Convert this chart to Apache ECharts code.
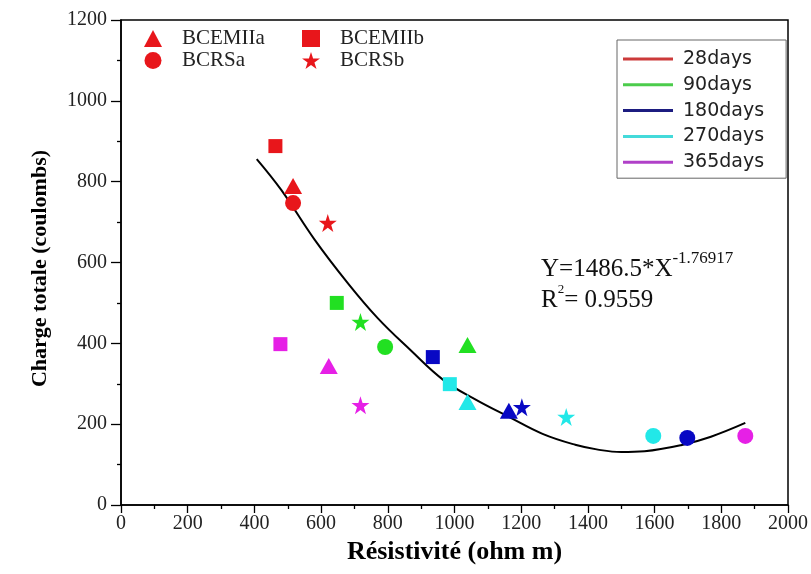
<!DOCTYPE html>
<html>
<head>
<meta charset="utf-8">
<script src="https://cdn.jsdelivr.net/npm/echarts@6/dist/echarts.min.js"></script>
<style>
html,body{margin:0;padding:0;background:#fff;}
#chart{width:811px;height:574px;}
</style>
</head>
<body>
<div id="chart"></div>
<script>
// ---- data ----
const ages = ['28days', '90days', '180days', '270days', '365days'];
const ageColors = ['#e8161b', '#22e022', '#0808c4', '#22e8e8', '#e620e6'];
const legendLineColors = ['#cc3a3a', '#4ccc4c', '#1c1c80', '#44dada', '#b040c8'];
const mixes = ['BCEMIIa', 'BCEMIIb', 'BCRSa', 'BCRSb'];
// [resistivity, charge] for each age (28, 90, 180, 270, 365 days)
const BCEMIIa = [[516, 789], [1039, 396], [1163, 233], [1039, 255], [623, 344]];
const BCEMIIb = [[463, 888], [647, 500], [935, 366], [986, 299], [478, 398]];
const BCRSa   = [[516, 747], [792, 391], [1698, 166], [1596, 171], [1872, 171]];
const BCRSb   = [[620, 698], [718, 453], [1202, 242], [1335, 218], [718, 247]];
// fitted curve
const fitX = [407, 481, 581, 680, 769, 867, 967, 1065, 1163, 1264, 1362, 1430, 1500, 1570, 1679, 1769, 1872];
const fitY = [856, 779, 656, 549, 463, 384, 309, 260, 218, 176, 149, 137, 131, 133, 148, 169, 203];
const xTicks = [0, 2000, 200];
const yTicks = [0, 1200, 200];

const STAR = 'path://M50,0 L61.2,34.5 L97.6,34.5 L68.2,55.9 L79.4,90.5 L50,69.1 L20.6,90.5 L31.8,55.9 L2.4,34.5 L38.8,34.5 Z';
const mixData = [BCEMIIa, BCEMIIb, BCRSa, BCRSb];
const mixSymbols = ['triangle', 'rect', 'circle', STAR];
const mixSizes = [[18, 16], [14, 14], [16, 16], [18, 18]];

const serif = '"Liberation Serif", "Times New Roman", serif';
const sans = '"DejaVu Sans", sans-serif';

const chart = echarts.init(document.getElementById('chart'), null, {renderer: 'canvas'});

const series = [];
mixes.forEach((m, i) => {
  series.push({
    name: m,
    type: 'scatter',
    symbol: mixSymbols[i],
    symbolSize: mixSizes[i],
    data: mixData[i],
    itemStyle: {color: p => ageColors[p.dataIndex], opacity: 1},
    z: 5
  });
});
ages.forEach((a, i) => {
  series.push({name: a, type: 'line', data: [], color: legendLineColors[i], showSymbol: false});
});
series.push({
  name: 'fit',
  type: 'line',
  smooth: 0.4,
  showSymbol: false,
  data: fitX.map((x, i) => [x, fitY[i]]),
  lineStyle: {color: '#000', width: 2},
  itemStyle: {color: '#000'},
  z: 3
});

const minorTick = {show: true, splitNumber: 2, length: 4, lineStyle: {color: '#000', width: 1.3}};
const shapeLegendText = {fontFamily: serif, fontSize: 21, color: '#222', lineHeight: 18, padding: [0, 0, 0, 15]};

chart.setOption({
  backgroundColor: '#fff',
  animation: false,
  grid: {left: 121, right: 16, top: 20, bottom: 69, show: true, borderColor: '#000', borderWidth: 1.5},
  xAxis: {
    type: 'value', min: xTicks[0], max: xTicks[1], interval: xTicks[2],
    name: 'Résistivité (ohm m)', nameLocation: 'middle', nameGap: 34,
    nameTextStyle: {fontFamily: serif, fontWeight: 'bold', fontSize: 26, color: '#000'},
    axisLine: {show: true, onZero: false, lineStyle: {color: '#000', width: 1.5}},
    axisTick: {show: true, inside: false, length: 8, lineStyle: {color: '#000', width: 1.3}},
    minorTick: minorTick,
    axisLabel: {fontFamily: serif, fontSize: 20, color: '#222', margin: 9, formatter: v => String(v)},
    splitLine: {show: false}
  },
  yAxis: {
    type: 'value', min: yTicks[0], max: yTicks[1], interval: yTicks[2],
    name: 'Charge totale (coulombs)', nameLocation: 'middle', nameGap: 70,
    nameTextStyle: {fontFamily: serif, fontWeight: 'bold', fontSize: 22, color: '#000', padding: [0, 12, 0, 0]},
    axisLine: {show: true, onZero: false, lineStyle: {color: '#000', width: 1.5}},
    axisTick: {show: true, inside: false, length: 10, lineStyle: {color: '#000', width: 1.3}},
    minorTick: minorTick,
    axisLabel: {fontFamily: serif, fontSize: 20, color: '#222', margin: 14, formatter: v => String(v)},
    splitLine: {show: false}
  },
  legend: [
    {
      orient: 'vertical', left: 139, top: 23, itemWidth: 18, itemHeight: 17, itemGap: 1,
      data: [
        {name: 'BCEMIIa', icon: 'triangle', itemStyle: {color: ageColors[0]}},
        {name: 'BCRSa', icon: 'circle', itemStyle: {color: ageColors[0]}}
      ],
      textStyle: shapeLegendText
    },
    {
      orient: 'vertical', left: 297, top: 23, itemWidth: 18, itemHeight: 17, itemGap: 1,
      data: [
        {name: 'BCEMIIb', icon: 'rect', itemStyle: {color: ageColors[0]}},
        {name: 'BCRSb', icon: STAR, itemStyle: {color: ageColors[0]}}
      ],
      textStyle: shapeLegendText
    },
    {
      orient: 'vertical', left: 617, top: 40, itemWidth: 50, itemHeight: 3, itemGap: 5.8,
      padding: [9, 22, 6, 6],
      borderColor: '#666', borderWidth: 1,
      icon: 'path://M0,0 L100,0 L100,6 L0,6 Z',
      data: ages,
      textStyle: {fontFamily: sans, fontSize: 19, color: '#222', lineHeight: 20, padding: [0, 0, 0, 5]}
    }
  ],
  graphic: [
    {
      type: 'text', left: 541, top: 250,
      style: {
        text: '{a|Y=1486.5*X}{b|-1.76917}',
        rich: {
          a: {fontFamily: serif, fontSize: 25, fill: '#111', lineHeight: 32, verticalAlign: 'bottom'},
          b: {fontFamily: serif, fontSize: 17, fill: '#111', lineHeight: 32, verticalAlign: 'top'}
        }
      }
    },
    {
      type: 'text', left: 541, top: 283,
      style: {
        text: '{a|R}{b|2}{a|= 0.9559}',
        rich: {
          a: {fontFamily: serif, fontSize: 25, fill: '#111', lineHeight: 30, verticalAlign: 'bottom'},
          b: {fontFamily: serif, fontSize: 13, fill: '#111', lineHeight: 30, verticalAlign: 'top'}
        }
      }
    }
  ],
  series: series
});
</script>
</body>
</html>
